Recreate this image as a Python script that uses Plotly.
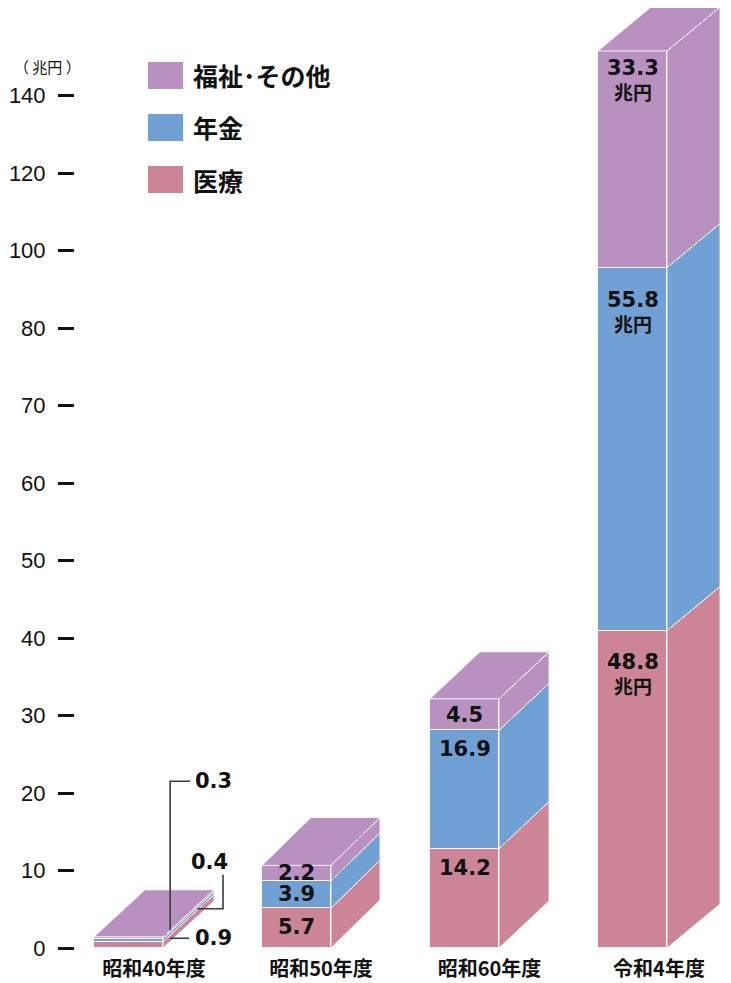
import plotly.graph_objects as go

# ---------------- data ----------------
categories = ["昭和40年度", "昭和50年度", "昭和60年度", "令和4年度"]
series_names = ["医療", "年金", "福祉･その他"]
medical = [0.9, 5.7, 14.2, 48.8]
pension = [0.4, 3.9, 16.9, 55.8]
welfare = [0.3, 2.2, 4.5, 33.3]
tick_labels = ["0", "10", "20", "30", "40", "50", "60", "70", "80", "100", "120", "140"]
unit_label = "（ 兆円 ）"
unit_suffix = "兆円"

# ---------------- style / layout ----------------
colors = ["#CB8596", "#70A0D4", "#B991C0"]
EDGE = "rgba(255,255,255,0.85)"
LEADER = "#3a3a3a"
CJK = "Noto Sans CJK JP"
NUM = "DejaVu Sans, Liberation Sans, sans-serif"
TICKF = "Liberation Sans, Arial, sans-serif"
NUM_SIZE = 21

PAGE_PAD = 8                       # browser body margin around the figure
W, H = 731 - PAGE_PAD, 983 - PAGE_PAD
ML, MR, MT, MB = 67, 0, 0, 35
PW, PH = W - ML - MR, H - MT - MB
XU = 168.0            # px per category
X0 = 53.5             # px from plot-left to first bar centre
x_lo = -X0 / XU
x_hi = x_lo + PW / XU
BAR_W = 69 / XU
DEPTH_PX = [(51, 47), (49, 48), (50, 47), (53, 44)]
PX_PER_UNIT = {"y2": 7.0, "y3": 6.505}
bar_axis = ["y2", "y2", "y2", "y3"]
TICK_STEP_PX = 77.5
LABEL_OFF = 19
R4_OFF = [31, 32, 17]
R4_UNIT_GAP = 24

series = [medical, pension, welfare]
fig = go.Figure()
annotations = []
shapes = []

# invisible anchor trace so the tick axis (y) is a live subplot
fig.add_trace(go.Scatter(x=[x_lo], y=[0], mode="markers", marker=dict(opacity=0),
                         showlegend=False, hoverinfo="skip"))

for i, cat in enumerate(categories):
    ax = bar_axis[i]
    k = PX_PER_UNIT[ax]
    DX = DEPTH_PX[i][0] / XU
    dy = DEPTH_PX[i][1] / k
    xl, xr = i - BAR_W / 2, i + BAR_W / 2
    base = 0.0
    for j, s in enumerate(series):
        v = s[i]
        top = base + v
        fig.add_trace(go.Bar(
            x=[i], y=[v], base=[base], width=BAR_W, yaxis=ax,
            marker=dict(color=colors[j], line=dict(color=EDGE, width=1)),
            showlegend=False, hoverinfo="skip"))
        fig.add_trace(go.Scatter(
            x=[xr, xr + DX, xr + DX, xr, xr],
            y=[base, base + dy, top + dy, top, base],
            fill="toself", fillcolor=colors[j], mode="lines",
            line=dict(color=EDGE, width=1), yaxis=ax,
            showlegend=False, hoverinfo="skip"))
        if i in (1, 2):
            off = min(v * k / 2, LABEL_OFF)
            annotations.append(dict(
                x=i, y=top, xref="x", yref=ax, yshift=-off, showarrow=False,
                text=f"<b>{v:.1f}</b>", font=dict(family=NUM, size=NUM_SIZE, color="#111"),
                xanchor="center", yanchor="middle", height=20))
        elif i == 3:
            off = R4_OFF[j]
            annotations.append(dict(
                x=i, y=top, xref="x", yref=ax, yshift=-off, showarrow=False,
                text=f"<b>{v:.1f}</b>", font=dict(family=NUM, size=NUM_SIZE, color="#111"),
                xanchor="center", yanchor="middle"))
            annotations.append(dict(
                x=i, y=top, xref="x", yref=ax, yshift=-(off + R4_UNIT_GAP), showarrow=False,
                text=f"<b>{unit_suffix}</b>", font=dict(family=CJK, size=19, color="#111"),
                xanchor="center", yanchor="middle"))
        base = top
    fig.add_trace(go.Scatter(
        x=[xl, xl + DX, xr + DX, xr, xl],
        y=[base, base + dy, base + dy, base, base],
        fill="toself", fillcolor=colors[-1], mode="lines",
        line=dict(color=EDGE, width=1), yaxis=ax,
        showlegend=False, hoverinfo="skip"))

# ---- leader lines for the first (tiny) bar ----
i = 0
ax = bar_axis[i]
k = PX_PER_UNIT[ax]
DX = DEPTH_PX[i][0] / XU
dy = DEPTH_PX[i][1] / k
xr = i + BAR_W / 2
total0 = medical[i] + pension[i] + welfare[i]


def add_leader(xs, ys):
    fig.add_trace(go.Scatter(x=xs, y=ys, mode="lines", yaxis=ax,
                             line=dict(color=LEADER, width=1.6),
                             showlegend=False, hoverinfo="skip"))


def leader_label(x, y, val, xanchor, yanchor, xshift=0, yshift=0):
    annotations.append(dict(
        x=x, y=y, xref="x", yref=ax, showarrow=False, xshift=xshift, yshift=yshift,
        text=f"<b>{val:.1f}</b>", font=dict(family=NUM, size=NUM_SIZE, color="#111"),
        xanchor=xanchor, yanchor=yanchor))


# welfare (top layer): up and to the right
t = 0.14
ax0, ay0 = xr + t * DX, total0 + t * dy
ay1 = ay0 + 149 / k
ax1 = ax0 + 20 / XU
add_leader([ax0, ax0, ax1], [ay0, ay1, ay1])
leader_label(ax1, ay1, welfare[i], "left", "middle", xshift=3)

# pension (middle layer): right, then up
t = 0.67
bx0, by0 = xr + t * DX, medical[i] + pension[i] / 2 + t * dy
bx1 = xr + DX + 9 / XU
by1 = by0 + 34 / k
add_leader([bx0, bx1, bx1], [by0, by0, by1])
leader_label(bx1, by1, pension[i], "right", "bottom", xshift=7, yshift=-1)

# medical (bottom layer): right
t = 0.14
cx0, cy0 = xr + t * DX, medical[i] / 2 + t * dy
cx1 = cx0 + 19 / XU
add_leader([cx0, cx1], [cy0, cy0])
leader_label(cx1, cy0, medical[i], "left", "middle", xshift=4)

# ---- legend (large swatches) ----
LEG_X_PX, LEG_Y0_PX, LEG_STEP, SW_W, SW_H = 148, 62, 52, 35, 27


def px2paper(px, py):
    """page pixel -> paper coords"""
    fx, fy = px - PAGE_PAD, py - PAGE_PAD
    return (fx - ML) / PW, (PH + MT - fy) / PH


for n, j in enumerate([2, 1, 0]):
    y_top = LEG_Y0_PX + n * LEG_STEP
    x0p, y0p = px2paper(LEG_X_PX, y_top + SW_H)
    x1p, y1p = px2paper(LEG_X_PX + SW_W, y_top)
    shapes.append(dict(type="rect", xref="paper", yref="paper",
                       x0=x0p, y0=y0p, x1=x1p, y1=y1p,
                       fillcolor=colors[j], line=dict(width=0)))
    tx, ty = px2paper(LEG_X_PX + SW_W + 8, y_top + SW_H / 2)
    annotations.append(dict(x=tx, y=ty, xref="paper", yref="paper", showarrow=False,
                            text=f"<b>{series_names[j]}</b>",
                            font=dict(family=CJK, size=25, color="#111"),
                            xanchor="left", yanchor="middle"))

# unit label
ux, uy = px2paper(47.5, 67)
annotations.append(dict(x=ux, y=uy, xref="paper", yref="paper", showarrow=False,
                        text=unit_label, font=dict(family=CJK, size=15, color="#111"),
                        xanchor="center", yanchor="middle"))

fig.update_layout(
    template="none",
    width=W, height=H,
    margin=dict(l=ML, r=MR, t=MT, b=MB, pad=0, autoexpand=False),
    paper_bgcolor="white", plot_bgcolor="white",
    barmode="overlay", bargap=0,
    showlegend=False,
    xaxis=dict(range=[x_lo, x_hi], showgrid=False, zeroline=False, showline=False,
               automargin=False,
               tickmode="array",
               tickvals=[n + DEPTH_PX[n][0] / XU / 2 for n in range(len(categories))],
               ticktext=categories, ticks="", ticklabelstandoff=7,
               tickfont=dict(family=CJK, size=20, color="#111", weight="bold")),
    yaxis=dict(range=[0, PH / TICK_STEP_PX], showgrid=False, zeroline=False, showline=False,
               automargin=False,
               tickmode="array", tickvals=list(range(len(tick_labels))), ticktext=tick_labels,
               ticks="outside", ticklen=16, tickwidth=2.5, tickcolor="#111",
               ticklabelstandoff=8,
               tickfont=dict(family=TICKF, size=22, color="#111")),
    yaxis2=dict(range=[0, PH / PX_PER_UNIT["y2"]], overlaying="y", visible=False,
                automargin=False),
    yaxis3=dict(range=[0, PH / PX_PER_UNIT["y3"]], overlaying="y", visible=False,
                automargin=False),
    annotations=annotations, shapes=shapes,
)

fig.write_html("out.html")
